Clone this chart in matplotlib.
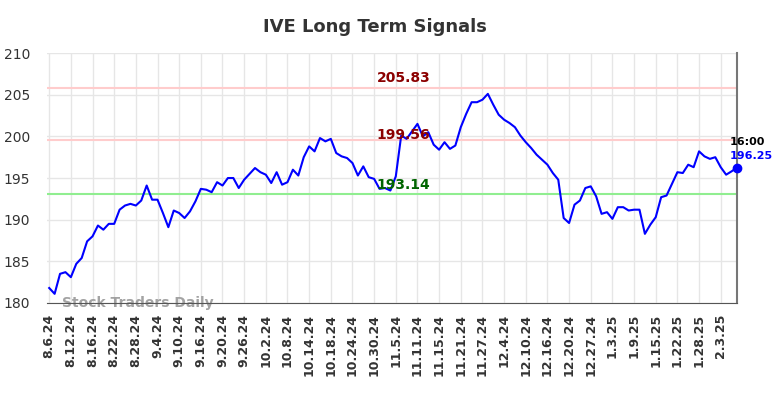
import matplotlib
matplotlib.use("Agg")
import matplotlib.pyplot as plt

# tick labels every 4 trading days
tick_labels = ["8.6.24", "8.12.24", "8.16.24", "8.22.24", "8.28.24", "9.4.24",
               "9.10.24", "9.16.24", "9.20.24", "9.26.24", "10.2.24", "10.8.24",
               "10.14.24", "10.18.24", "10.24.24", "10.30.24", "11.5.24", "11.11.24",
               "11.15.24", "11.21.24", "11.27.24", "12.4.24", "12.10.24", "12.16.24",
               "12.20.24", "12.27.24", "1.3.25", "1.9.25", "1.15.25", "1.22.25",
               "1.28.25", "2.3.25"]

prices = [181.8, 181.1, 183.5, 183.7, 183.1, 184.7, 185.4, 187.4, 188.0, 189.3,
          188.8, 189.5, 189.5, 191.2, 191.7, 191.9, 191.7, 192.3, 194.1, 192.4,
          192.4, 190.8, 189.1, 191.1, 190.8, 190.2, 191.0, 192.2, 193.7, 193.6,
          193.3, 194.5, 194.1, 195.0, 195.0, 193.8, 194.8, 195.5, 196.2, 195.7,
          195.4, 194.4, 195.7, 194.2, 194.5, 196.0, 195.3, 197.5, 198.8, 198.2,
          199.8, 199.4, 199.7, 198.0, 197.6, 197.4, 196.8, 195.3, 196.4, 195.1,
          194.9, 193.7, 193.8, 193.5, 195.2, 200.1, 199.7, 200.6, 201.5, 200.0,
          200.5, 199.0, 198.4, 199.3, 198.5, 198.9, 201.1, 202.7, 204.1, 204.1,
          204.4, 205.1, 203.8, 202.6, 202.0, 201.6, 201.1, 200.1, 199.3, 198.6,
          197.8, 197.2, 196.6, 195.6, 194.8, 190.2, 189.6, 191.8, 192.3, 193.8,
          194.0, 192.8, 190.7, 190.9, 190.1, 191.5, 191.5, 191.1, 191.2, 191.2,
          188.3, 189.4, 190.3, 192.7, 192.9, 194.3, 195.7, 195.6, 196.6, 196.3,
          198.2, 197.6, 197.3, 197.5, 196.3, 195.4, 195.8, 196.25]

resist_hi = 205.83
resist_lo = 199.56
support = 193.14
last_time = "16:00"

x = list(range(len(prices)))
tick_pos = list(range(0, len(tick_labels) * 4, 4))

fig = plt.figure(figsize=(7.84, 3.98), dpi=100)
ax = fig.add_axes([0.060, 0.2387, 0.880, 0.628])

ax.axhline(resist_hi, color="#ffcccc", lw=1.5, zorder=1)
ax.axhline(resist_lo, color="#ffcccc", lw=1.5, zorder=1)
ax.axhline(support, color="#90ee90", lw=1.5, zorder=1)

ax.plot(x, prices, color="blue", lw=1.5, zorder=3)
ax.plot(x[-1], prices[-1], "o", color="blue", ms=6, zorder=4, clip_on=False)

mid = 65.4
ax.text(mid, resist_hi + 0.3, f"{resist_hi:.2f}", color="#8b0000", fontsize=10,
        fontweight="bold", ha="center", va="bottom", zorder=5)
ax.text(mid, resist_lo - 0.2, f"{resist_lo:.2f}", color="#8b0000", fontsize=10,
        fontweight="bold", ha="center", va="bottom", zorder=5)
ax.text(mid, support + 0.2, f"{support:.2f}", color="#006400", fontsize=10,
        fontweight="bold", ha="center", va="bottom", zorder=5)

ax.annotate(last_time, xy=(x[-1], prices[-1]), xytext=(-5, 15),
            textcoords="offset points", ha="left", va="bottom",
            fontsize=8, fontweight="bold", color="black", annotation_clip=False)
ax.annotate(f"{prices[-1]:.2f}", xy=(x[-1], prices[-1]), xytext=(-5, 5),
            textcoords="offset points", ha="left", va="bottom",
            fontsize=8, fontweight="bold", color="blue", annotation_clip=False)

ax.text(2.3, 180.0, "Stock Traders Daily", color="#999999", fontsize=10,
        fontweight="bold", ha="left", va="center", alpha=0.9, zorder=2,
        clip_on=False)

ax.set_xlim(-0.4, len(prices) - 1)
ax.set_ylim(180, 210)
ax.set_yticks(range(180, 211, 5))
ax.set_xticks(tick_pos)
ax.set_xticklabels(tick_labels, rotation=90, fontweight="bold", fontsize=9, color="#333333")
ax.tick_params(axis="y", labelsize=10, colors="#333333", length=0, pad=12)
ax.tick_params(axis="x", length=0, pad=8)
ax.grid(True, color="#e6e6e6", lw=1)
ax.set_axisbelow(True)

for s in ["top", "left"]:
    ax.spines[s].set_visible(False)
ax.spines["right"].set_color("#777777")
ax.spines["right"].set_linewidth(1.5)
ax.spines["bottom"].set_color("#555555")

fig.suptitle("IVE Long Term Signals", x=0.478, y=0.955, fontsize=13,
             fontweight="bold", color="#333333")

fig.savefig("out.png", dpi=100)
